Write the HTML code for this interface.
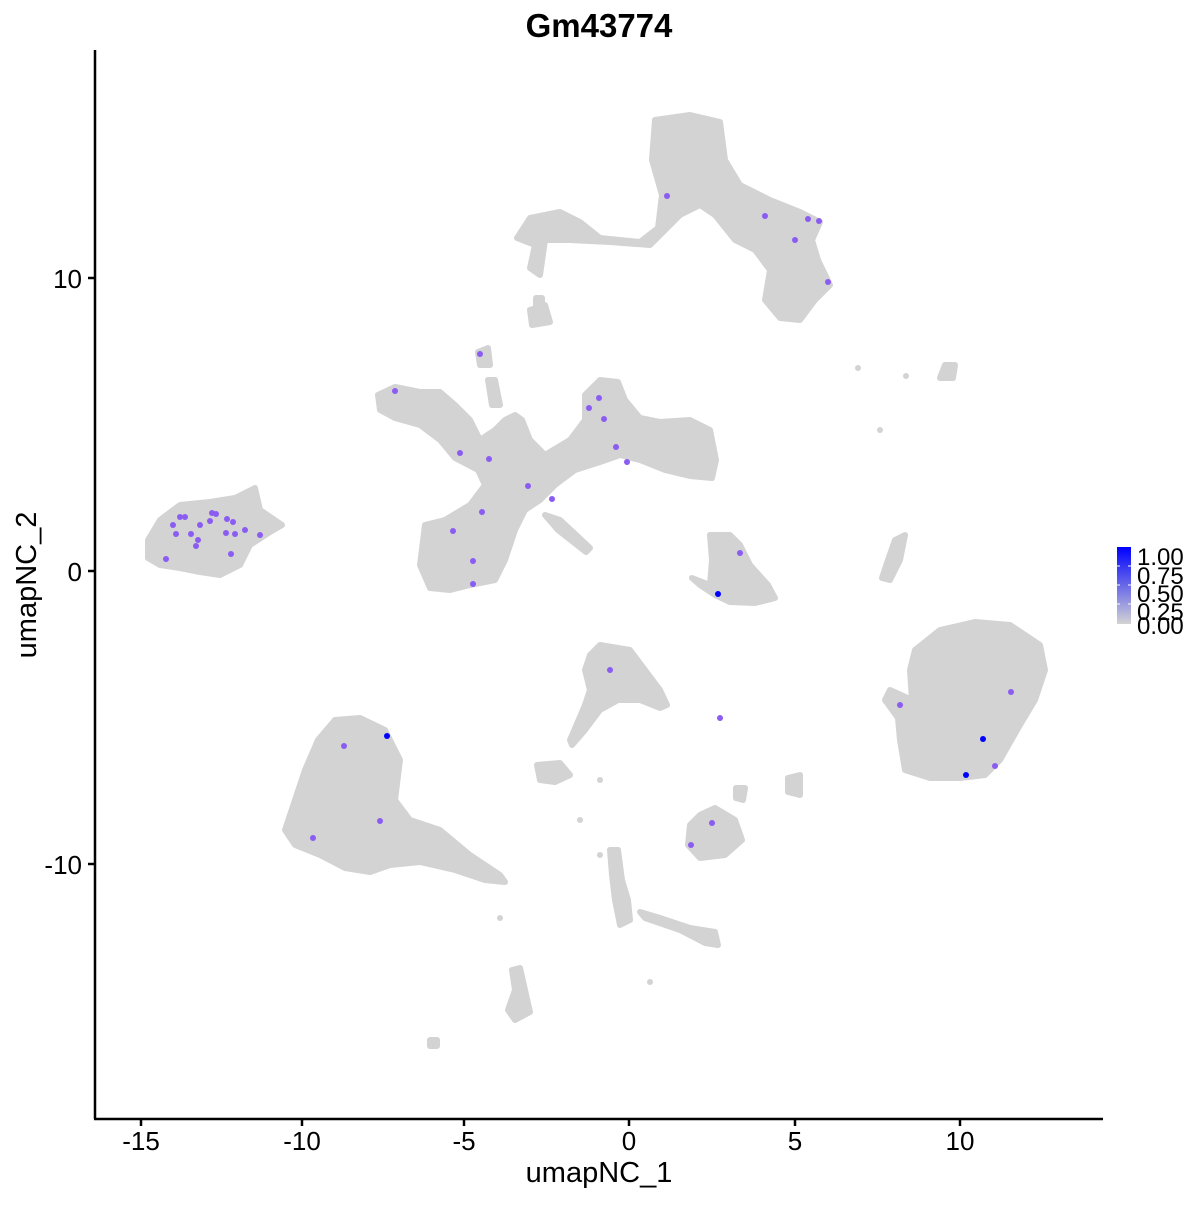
<!DOCTYPE html>
<html><head><style>
body{margin:0;background:#fff}
svg text{font-family:"Liberation Sans",sans-serif}
</style></head><body>
<svg width="1200" height="1200" viewBox="0 0 1200 1200" xmlns="http://www.w3.org/2000/svg">
<rect width="1200" height="1200" fill="#fff"/>
<g fill="#d3d3d3" stroke="#d3d3d3" stroke-width="6" stroke-linejoin="round">
<path d="M655 120 L690 115 L720 122 L725 160 L740 185 L770 200 L800 212 L820 222 L812 240 L818 260 L830 285 L815 300 L800 320 L780 318 L765 300 L770 270 L755 250 L735 240 L715 215 L700 205 L680 215 L665 230 L650 245 L610 242 L570 240 L545 240 L540 275 L530 268 L535 245 L517 238 L530 218 L560 212 L580 222 L600 238 L640 242 L658 228 L662 195 L652 160 Z"/>
<path d="M530 310 L545 305 L550 322 L532 325 Z"/>
<path d="M536 298 L542 298 L542 310 L536 310 Z"/>
<path d="M378 395 L395 387 L420 392 L440 392 L455 405 L470 420 L480 440 L495 430 L505 420 L515 415 L522 420 L530 440 L545 455 L570 440 L585 420 L585 395 L600 380 L618 382 L625 400 L640 418 L660 422 L690 420 L710 430 L716 460 L712 478 L690 476 L665 470 L640 460 L620 455 L600 462 L575 470 L555 485 L540 500 L525 510 L515 530 L505 560 L495 580 L470 585 L450 590 L430 588 L420 565 L425 525 L445 520 L470 505 L485 485 L478 470 L455 458 L440 440 L420 425 L395 418 L380 410 Z"/>
<path d="M478 352 L488 348 L490 365 L480 365 Z"/>
<path d="M488 380 L495 380 L500 405 L492 405 Z"/>
<path d="M545 515 L560 520 L590 548 L586 552 L558 530 Z"/>
<path d="M148 540 L160 520 L180 505 L210 502 L235 498 L255 488 L260 510 L282 525 L270 532 L250 545 L240 565 L220 575 L200 572 L180 568 L160 565 L148 558 Z"/>
<path d="M710 535 L730 535 L740 545 L750 565 L768 585 L775 598 L755 603 L730 602 L715 595 L700 585 L692 578 L710 585 L712 560 Z"/>
<path d="M895 540 L905 535 L900 560 L890 580 L882 578 L888 560 Z"/>
<path d="M915 650 L940 630 L975 622 L1010 625 L1040 645 L1045 670 L1035 700 L1020 725 L1000 760 L985 775 L960 778 L930 778 L905 770 L900 740 L898 718 L885 700 L890 690 L912 700 L910 670 Z"/>
<path d="M285 830 L295 800 L305 770 L318 740 L335 720 L360 718 L385 730 L400 760 L395 800 L410 820 L440 830 L470 855 L500 875 L505 882 L485 880 L455 870 L420 862 L390 865 L370 872 L345 868 L320 855 L295 845 Z"/>
<path d="M590 655 L600 645 L630 650 L645 670 L660 690 L667 705 L660 708 L640 700 L618 700 L600 710 L585 730 L572 745 L570 740 L585 705 L590 690 L585 670 Z"/>
<path d="M537 765 L560 763 L570 775 L555 782 L540 780 Z"/>
<path d="M690 825 L700 815 L715 808 L735 820 L742 840 L725 855 L700 858 L688 845 Z"/>
<path d="M610 850 L618 850 L622 880 L628 900 L630 920 L620 925 L615 900 L612 875 Z"/>
<path d="M640 912 L660 918 L690 928 L715 932 L718 945 L705 943 L680 930 L645 918 Z"/>
<path d="M512 970 L520 968 L525 990 L530 1012 L515 1020 L508 1010 L515 990 Z"/>
<path d="M430 1040 L437 1040 L437 1046 L430 1046 Z"/>
<path d="M788 778 L800 775 L800 795 L788 792 Z"/>
<path d="M736 788 L745 788 L743 800 L736 798 Z"/>
<path d="M945 365 L955 365 L953 378 L940 378 Z"/>
</g>
<g fill="#d3d3d3">
<circle cx="858" cy="368" r="3"/><circle cx="906" cy="376" r="3"/><circle cx="880" cy="430" r="3"/><circle cx="500" cy="918" r="3"/><circle cx="650" cy="982" r="3"/><circle cx="600" cy="855" r="3"/><circle cx="580" cy="820" r="3"/><circle cx="600" cy="780" r="3"/>
</g>
<g fill="#8a5cf2">
<circle cx="667" cy="196" r="3"/><circle cx="765" cy="216" r="3"/><circle cx="808" cy="219" r="3"/><circle cx="819" cy="221" r="3"/><circle cx="795" cy="240" r="3"/><circle cx="828" cy="282" r="3"/>
<circle cx="480" cy="354" r="3"/><circle cx="395" cy="391" r="3"/><circle cx="460" cy="453" r="3"/><circle cx="489" cy="459" r="3"/><circle cx="599" cy="398" r="3"/><circle cx="589" cy="408" r="3"/><circle cx="604" cy="419" r="3"/><circle cx="616" cy="447" r="3"/><circle cx="627" cy="462" r="3"/><circle cx="528" cy="486" r="3"/><circle cx="552" cy="499" r="3"/><circle cx="482" cy="512" r="3"/><circle cx="453" cy="531" r="3"/><circle cx="473" cy="561" r="3"/><circle cx="473" cy="584" r="3"/>
<circle cx="173" cy="525" r="3"/><circle cx="180" cy="517" r="3"/><circle cx="185" cy="517" r="3"/><circle cx="176" cy="534" r="3"/><circle cx="191" cy="534" r="3"/><circle cx="200" cy="525" r="3"/><circle cx="212" cy="513" r="3"/><circle cx="216" cy="514" r="3"/><circle cx="210" cy="521" r="3"/><circle cx="227" cy="519" r="3"/><circle cx="233" cy="522" r="3"/><circle cx="226" cy="533" r="3"/><circle cx="235" cy="534" r="3"/><circle cx="245" cy="530" r="3"/><circle cx="260" cy="535" r="3"/><circle cx="198" cy="540" r="3"/><circle cx="196" cy="546" r="3"/><circle cx="231" cy="554" r="3"/><circle cx="166" cy="559" r="3"/>
<circle cx="740" cy="553" r="3"/><circle cx="610" cy="670" r="3"/><circle cx="720" cy="718" r="3"/><circle cx="344" cy="746" r="3"/><circle cx="380" cy="821" r="3"/><circle cx="313" cy="838" r="3"/><circle cx="712" cy="823" r="3"/><circle cx="691" cy="845" r="3"/><circle cx="900" cy="705" r="3"/><circle cx="1011" cy="692" r="3"/><circle cx="995" cy="766" r="3"/>
</g>
<g fill="#0000ff">
<circle cx="718" cy="594" r="3"/><circle cx="387" cy="736" r="3"/><circle cx="983" cy="739" r="3"/><circle cx="966" cy="775" r="3"/>
</g>
<g stroke="#000" stroke-width="2.5" fill="none">
<line x1="95" y1="50" x2="95" y2="1119"/>
<line x1="94" y1="1119" x2="1103" y2="1119"/>
<line x1="88" y1="278" x2="95" y2="278"/><line x1="88" y1="571" x2="95" y2="571"/><line x1="88" y1="864" x2="95" y2="864"/>
<line x1="141" y1="1119" x2="141" y2="1126"/><line x1="302" y1="1119" x2="302" y2="1126"/><line x1="464" y1="1119" x2="464" y2="1126"/><line x1="629" y1="1119" x2="629" y2="1126"/><line x1="795" y1="1119" x2="795" y2="1126"/><line x1="960" y1="1119" x2="960" y2="1126"/>
</g>
<g font-size="26" fill="#000">
<text x="82" y="288" text-anchor="end">10</text>
<text x="82" y="581" text-anchor="end">0</text>
<text x="82" y="874" text-anchor="end">-10</text>
<text x="141" y="1150" text-anchor="middle">-15</text>
<text x="302" y="1150" text-anchor="middle">-10</text>
<text x="464" y="1150" text-anchor="middle">-5</text>
<text x="629" y="1150" text-anchor="middle">0</text>
<text x="795" y="1150" text-anchor="middle">5</text>
<text x="960" y="1150" text-anchor="middle">10</text>
</g>
<g font-size="29" fill="#000">
<text x="599" y="1182" text-anchor="middle">umapNC_1</text>
<text transform="translate(36,585) rotate(-90)" text-anchor="middle">umapNC_2</text>
</g>
<text x="599" y="37" text-anchor="middle" font-size="33" font-weight="bold">Gm43774</text>
<defs><linearGradient id="g" x1="0" y1="1" x2="0" y2="0"><stop offset="0" stop-color="#d3d3d3"/><stop offset="1" stop-color="#0000ff"/></linearGradient></defs>
<rect x="1117" y="547" width="14" height="77" fill="url(#g)"/>
<g stroke="#fff" stroke-width="1"><line x1="1117" y1="566" x2="1120" y2="566"/><line x1="1128" y1="566" x2="1131" y2="566"/><line x1="1117" y1="585" x2="1120" y2="585"/><line x1="1128" y1="585" x2="1131" y2="585"/><line x1="1117" y1="604" x2="1120" y2="604"/><line x1="1128" y1="604" x2="1131" y2="604"/></g>
<g font-size="24" fill="#000">
<text x="1137" y="565">1.00</text>
<text x="1137" y="584">0.75</text>
<text x="1137" y="602">0.50</text>
<text x="1137" y="620">0.25</text>
<text x="1137" y="634">0.00</text>
</g>
</svg>
</body></html>
